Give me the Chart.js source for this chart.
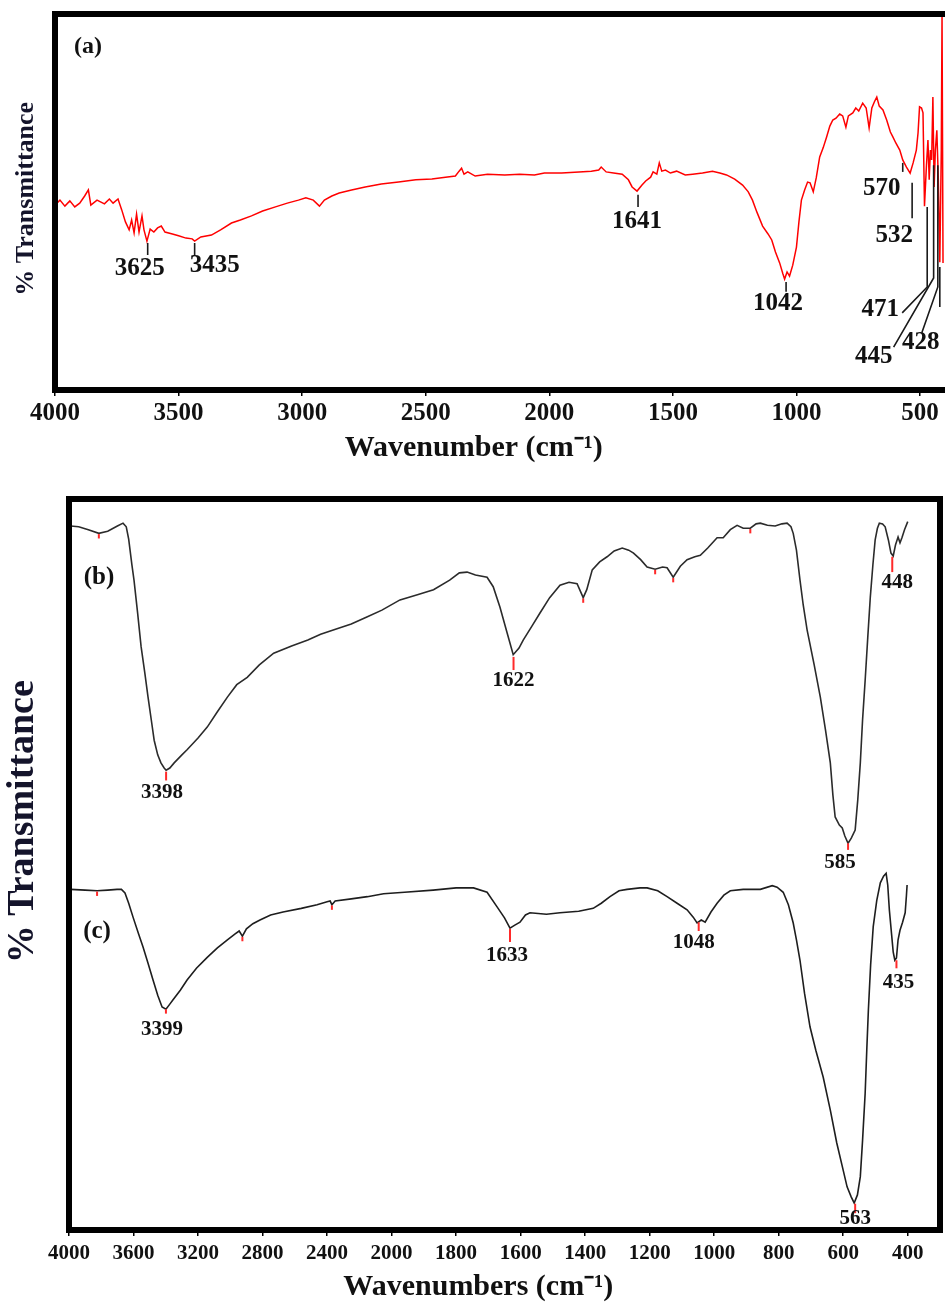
<!DOCTYPE html>
<html lang="en">
<head>
<meta charset="UTF-8">
<title>FTIR spectra (a), (b), (c)</title>
<script src="https://cdn.jsdelivr.net/npm/chart.js"></script>
<style>
  body { margin: 0; background: #fff; }
  canvas { position: absolute; left: 0; }
  #chartA { top: 0; }
  #chartBC { top: 470px; }
</style>
</head>
<body>
<canvas id="chartA" width="945" height="470"></canvas>
<canvas id="chartBC" width="945" height="836"></canvas>
<script>
// spectrum (a): wavenumber (cm-1) and transmittance (arb. units)
const wnA = [4000,3980,3960,3940,3920,3900,3880,3865,3855,3830,3800,3780,3765,3745,3730,3715,3700,3690,3680,3670,
  3660,3648,3640,3628,3615,3600,3585,3570,3555,3525,3500,3470,3445,3435,3410,3367,3330,3286,3250,3205,
  3160,3108,3060,3015,2985,2955,2930,2910,2880,2850,2800,2745,2680,2610,2540,2475,2420,2380,2365,2355,
  2345,2330,2300,2250,2180,2120,2060,2020,1950,1880,1830,1800,1790,1770,1740,1705,1680,1665,1645,1625,
  1610,1590,1580,1565,1555,1545,1530,1510,1485,1450,1420,1380,1340,1310,1283,1250,1218,1195,1178,1160,
  1137,1115,1100,1085,1068,1055,1048,1038,1028,1015,1000,990,980,967,955,945,932,920,906,892,
  878,865,853,840,825,813,800,790,772,760,748,732,718,706,695,685,675,665,650,635,
  620,610,598,582,570,555,540,528,515,508,502,494,488,482,474,468,463,458,453,448,
  443,438,432,426,420,414,411,407];
const tA = [49.2,50.5,48.9,50.3,48.7,49.7,51.6,53.2,49.2,50.5,49.5,50.8,49.7,50.8,47.9,44.7,42.6,45.2,41.8,46.8,
  42.0,46.3,42.6,39.6,42.8,42.0,43.1,43.6,42.0,41.5,41.0,40.4,40.2,39.6,40.7,41.2,42.6,44.4,45.2,46.3,
  47.6,48.7,49.7,50.5,51.1,50.5,48.9,50.5,51.6,52.4,53.2,54.0,54.8,55.3,55.9,56.1,56.6,56.9,58.2,59.0,
  57.4,58.0,56.9,57.4,57.2,57.4,57.2,57.7,57.7,58.0,58.2,58.5,59.3,58.0,57.7,57.4,55.9,54.0,52.9,54.5,
  55.6,56.6,58.0,57.4,60.4,58.2,58.5,57.7,58.2,57.2,57.4,57.7,58.2,57.7,57.2,56.1,54.5,52.7,50.5,47.3,
  43.6,41.5,39.9,36.7,33.8,30.9,29.5,31.4,30.3,33.2,38.0,44.7,50.5,53.2,55.3,55.1,52.7,56.4,62.0,64.4,
  67.3,70.2,71.8,72.3,73.4,72.9,69.9,72.9,73.7,75.0,74.2,76.3,75.0,69.7,75.0,76.6,77.9,75.5,74.5,71.8,
  68.6,67.3,65.7,63.8,61.2,59.3,57.7,60.4,63.8,68.4,75.3,75.0,73.7,48.9,59.8,66.5,55.9,63.8,61.2,77.9,
  54.0,63.8,69.1,55.9,34.0,63.8,99.7,33.8];

// spectrum (b)
const wnB = [3990,3940,3880,3815,3760,3700,3665,3645,3630,3610,3597,3575,3553,3530,3510,3490,3472,3450,3430,3410,
  3398,3375,3348,3300,3268,3200,3143,3080,3018,2960,2895,2820,2731,2620,2519,2440,2357,2250,2150,2060,
  1974,1920,1870,1820,1790,1766,1740,1704,1685,1664,1642,1623,1605,1592,1565,1540,1510,1478,1450,1425,
  1406,1395,1378,1355,1332,1310,1285,1265,1250,1228,1208,1183,1160,1146,1127,1105,1084,1060,1043,1020,
  991,972,950,929,910,888,870,857,835,811,790,774,762,755,745,734,724,712,690,671,
  655,640,632,625,612,603,595,585,575,563,555,547,540,532,524,516,508,501,494,488,
  478,470,460,452,445,438,430,424,418,410,400];
const tB = [96.3,96.2,95.8,95.3,95.6,96.3,96.7,96.2,94.5,91.0,88.9,84.5,79.8,76.2,72.9,69.8,67.0,65.0,63.9,63.2,
  62.9,63.2,63.9,65.0,65.7,67.3,68.8,70.9,72.9,74.6,75.6,77.3,78.9,79.9,80.7,81.5,82.1,82.9,83.9,84.8,
  86.2,86.9,87.6,88.9,89.9,90.0,89.6,89.3,88.0,85.2,81.7,78.7,79.6,80.7,82.6,84.4,86.5,88.2,88.6,88.4,
  86.5,87.6,90.3,91.4,92.1,92.9,93.3,93.0,92.6,91.7,90.7,90.4,90.7,90.6,89.3,90.8,91.7,92.1,92.3,93.3,
  94.7,94.7,95.8,96.4,96.0,96.0,96.6,96.7,96.4,96.3,96.6,96.7,96.2,95.3,93.0,88.9,85.5,82.1,77.3,72.9,
  68.4,63.9,59.5,56.5,55.4,55.0,53.9,52.9,53.6,54.7,58.8,63.9,69.8,75.2,81.0,86.6,91.0,94.4,96.0,96.7,
  96.6,96.2,94.4,92.6,92.2,93.7,94.8,94.0,94.7,95.8,96.9];

// spectrum (c)
const wnC = [3990,3900,3826,3760,3702,3675,3653,3630,3603,3570,3541,3510,3479,3450,3423,3399,3375,3355,3310,3268,
  3210,3143,3080,3018,2970,2945,2925,2900,2860,2816,2750,2673,2560,2462,2400,2381,2370,2350,2250,2150,
  2050,1960,1871,1800,1746,1704,1673,1650,1633,1618,1602,1585,1571,1520,1478,1420,1375,1350,1323,1295,
  1270,1230,1208,1175,1146,1115,1084,1065,1053,1040,1028,1010,991,970,950,910,857,820,805,786,
  770,755,745,734,720,703,685,662,640,620,604,588,575,566,556,547,540,532,527,522,
  515,507,496,485,475,467,462,457,450,445,440,435,430,424,416,408,404,402];
const tC = [46.6,46.5,46.4,46.5,46.6,46.6,46.1,44.7,42.8,40.6,38.7,36.5,34.2,32.1,30.5,30.2,30.9,31.5,32.8,34.2,
  35.8,37.3,38.6,39.7,40.5,40.9,40.2,41.2,41.9,42.4,43.1,43.5,44.0,44.5,44.9,45.0,44.5,45.0,45.3,45.6,
  46.0,46.2,46.5,46.8,46.8,46.2,44.2,42.7,41.3,41.7,42.1,43.1,43.4,43.2,43.4,43.6,44.0,44.7,45.6,46.4,
  46.6,46.8,46.8,46.4,45.6,44.7,43.8,42.8,42.0,42.4,42.1,43.5,44.7,45.8,46.4,46.6,46.6,47.1,46.9,46.2,
  44.5,42.0,39.7,36.9,32.4,27.8,24.6,20.9,16.4,11.9,8.9,5.9,4.5,3.7,4.8,7.3,12.3,18.7,24.6,30.1,
  36.3,41.5,45.1,47.5,48.4,48.8,47.2,43.8,40.4,38.0,36.9,37.2,39.7,41.0,42.1,43.4,45.8,47.2];

// tick labels
const ticksTop = [4000, 3500, 3000, 2500, 2000, 1500, 1000, 500];
const ticksBottom = [4000, 3600, 3200, 2800, 2400, 2000, 1800, 1600, 1400, 1200, 1000, 800, 600, 400];

// labelled peaks
const peaksA = [3625, 3435, 1641, 1042, 570, 532, 471, 445, 428];
const peaksB = [3398, 1622, 585, 448];
const peaksC = [3399, 1633, 1048, 563, 435];
// small unlabelled red marks on (b) and (c)
const minorB = [3815, 1406, 1183, 1127, 888];
const minorC = [3826, 2925, 2370];

// where the peak labels sit: tick from/to and label height in axis units, label shift in px
const placeA = [
  { tick: [39.1, 35.9], labelV: 32.4, dx: -8 },
  { tick: [39.1, 35.9], labelV: 33.0, dx: 20 },
  { tick: [51.9, 48.7], labelV: 44.7, dx: -1 },
  { tick: [28.7, 26.1], labelV: 22.9, dx: -8 },
  { tick: [60.4, 58.0], labelV: 53.7, dx: -21 },
  { tick: [55.1, 45.7], labelV: 41.2, dx: -18 },
  { tick: [48.7, 27.4], leader: [-25, 20.5], labelV: 21.3, dx: -47 },
  { tick: [59.8, 29.8], leader: [-40, 11.4], labelV: 8.8, dx: -60 },
  { tick: [59.8, 27.4], leader: [-16, 15.2], labelV: 12.5, dx: -17 }
];
const placeB = [
  { tick: [62.7, 61.5], labelV: 59.9, dx: -4 },
  { tick: [78.4, 76.6], labelV: 75.2, dx: 0 },
  { tick: [52.9, 52.0], labelV: 50.2, dx: -8 },
  { tick: [92.1, 90.0], labelV: 88.6, dx: 5 }
];
const placeC = [
  { tick: [30.2, 29.6], labelV: 27.4, dx: -4 },
  { tick: [41.2, 39.4], labelV: 37.6, dx: -3 },
  { tick: [42.1, 40.9], labelV: 39.3, dx: -5 },
  { tick: [3.6, 2.3], labelV: 1.6, dx: 0 },
  { tick: [36.9, 35.8], labelV: 33.9, dx: 2 }
];

const serif = '"Liberation Serif", "Times New Roman", Times, serif';

// lower panel: 4000-2000 drawn at half the scale of 2000-400
function toAxis(w) { return w >= 2000 ? (4000 - w) / 400 : 5 + (2000 - w) / 200; }
function fromAxis(p) { return p <= 5 ? 4000 - 400 * p : 2000 - 200 * (p - 5); }

// curve height at w, only used to hang the small marks on the line
function curveAt(ws, ts, w) {
  for (let i = 1; i < ws.length; i++) {
    if (ws[i] <= w) {
      const f = (ws[i - 1] - w) / (ws[i - 1] - ws[i]);
      return ts[i - 1] + f * (ts[i] - ts[i - 1]);
    }
  }
  return ts[ts.length - 1];
}

function buildMarks(peaks, place, color, width) {
  return peaks.map((w, i) => Object.assign({ w, text: String(w), color, width }, place[i]));
}
function buildMinor(list, ws, ts) {
  return list.map(w => {
    const v = curveAt(ws, ts, w);
    return { w, text: '', color: '#ff2a2a', width: 2, tick: [v - 0.1, v - 0.7] };
  });
}

// frame round the plot area (right side optional), peak ticks + labels, panel letters
function framePlugin(marks, letters, toX, font, letterFont, rightSide) {
  return {
    id: 'frameAndMarks',
    afterDatasetsDraw(chart) {
      const { ctx, chartArea: a, scales: { x, y } } = chart;
      ctx.save();
      ctx.strokeStyle = '#000';
      ctx.lineWidth = 6;
      ctx.lineJoin = 'miter';
      ctx.beginPath();
      if (rightSide) {
        ctx.rect(a.left, a.top, a.right - a.left, a.bottom - a.top);
      } else {
        ctx.moveTo(a.right + 3, a.top);
        ctx.lineTo(a.left, a.top);
        ctx.lineTo(a.left, a.bottom);
        ctx.lineTo(a.right + 3, a.bottom);
      }
      ctx.stroke();
      ctx.textAlign = 'center';
      ctx.textBaseline = 'middle';
      ctx.font = font;
      marks.forEach(m => {
        const px = x.getPixelForValue(toX(m.w));
        ctx.strokeStyle = m.color;
        ctx.lineWidth = m.width;
        ctx.beginPath();
        ctx.moveTo(px, y.getPixelForValue(m.tick[0]));
        ctx.lineTo(px, y.getPixelForValue(m.tick[1]));
        if (m.leader) ctx.lineTo(px + m.leader[0], y.getPixelForValue(m.leader[1]));
        ctx.stroke();
        if (m.text) {
          ctx.fillStyle = '#111';
          ctx.fillText(m.text, px + m.dx, y.getPixelForValue(m.labelV));
        }
      });
      ctx.font = letterFont;
      ctx.fillStyle = '#111';
      letters.forEach(([t, dx, dy]) => ctx.fillText(t, a.left + dx, a.top + dy));
      ctx.restore();
    }
  };
}

const marksA = buildMarks(peaksA, placeA, '#1a1a1a', 1.6);
marksA.push({ w: 420, text: '', color: '#1a1a1a', width: 1.6, tick: [32.7, 22.1] });

const marksBC = buildMarks(peaksB, placeB, '#ff2a2a', 2)
  .concat(buildMarks(peaksC, placeC, '#ff2a2a', 2))
  .concat(buildMinor(minorB, wnB, tB))
  .concat(buildMinor(minorC, wnC, tC));

const tickGrid = { display: true, drawOnChartArea: false, drawTicks: true, tickLength: 6, color: '#000', lineWidth: 1.5 };

// ---- panel (a); its right edge runs off the picture
new Chart(document.getElementById('chartA'), {
  type: 'line',
  data: {
    datasets: [{
      data: wnA.map((w, i) => ({ x: w, y: tA[i] })),
      borderColor: '#ff0000', borderWidth: 1.5, pointRadius: 0, tension: 0
    }]
  },
  options: {
    responsive: false,
    animation: false,
    layout: { padding: { top: 14, right: 0, left: 0, bottom: 0 } },
    plugins: { legend: { display: false }, tooltip: { enabled: false } },
    scales: {
      x: {
        type: 'linear', reverse: true, min: 399, max: 4000,
        afterBuildTicks: s => { s.ticks = ticksTop.map(v => ({ value: v })); },
        afterFit: s => { s.height = 80; },
        grid: tickGrid,
        border: { display: false },
        ticks: {
          padding: 3, maxRotation: 0, autoSkip: false, color: '#111',
          font: { family: serif, size: 25, weight: 'bold' },
          callback: v => String(v)
        },
        title: {
          display: true, text: 'Wavenumber (cm\u207B\u00B9)       ', color: '#111',
          font: { family: serif, size: 30, weight: 'bold' }, padding: { top: 0, bottom: 4 }
        }
      },
      y: {
        min: 0, max: 100,
        afterFit: s => { s.width = 55; },
        grid: { display: false },
        border: { display: false },
        ticks: { display: false },
        title: {
          display: true, text: ' % Transmittance', color: '#14142b',
          font: { family: serif, size: 26, weight: 'bold' }, padding: { top: 11, bottom: 0 }
        }
      }
    }
  },
  plugins: [framePlugin(marksA, [['(a)', 33, 33]], w => w,
    'bold 25px ' + serif, 'bold 24px ' + serif, false)]
});

// ---- panels (b) and (c)
new Chart(document.getElementById('chartBC'), {
  type: 'line',
  data: {
    datasets: [
      { data: wnB.map((w, i) => ({ x: toAxis(w), y: tB[i] })), borderColor: '#2b2b2b', borderWidth: 1.6, pointRadius: 0, tension: 0 },
      { data: wnC.map((w, i) => ({ x: toAxis(w), y: tC[i] })), borderColor: '#1e1e1e', borderWidth: 1.6, pointRadius: 0, tension: 0 }
    ]
  },
  options: {
    responsive: false,
    animation: false,
    layout: { padding: { top: 29, right: 5, left: 0, bottom: 0 } },
    plugins: { legend: { display: false }, tooltip: { enabled: false } },
    scales: {
      x: {
        type: 'linear', min: 0, max: 13.5,
        afterBuildTicks: s => { s.ticks = ticksBottom.map(w => ({ value: toAxis(w) })); },
        afterFit: s => { s.height = 76; },
        grid: tickGrid,
        border: { display: false },
        ticks: {
          padding: 5, maxRotation: 0, autoSkip: false, color: '#111',
          font: { family: serif, size: 21, weight: 'bold' },
          callback: v => String(Math.round(fromAxis(v)))
        },
        title: {
          display: true, text: 'Wavenumbers (cm\u207B\u00B9)       ', color: '#111',
          font: { family: serif, size: 30, weight: 'bold' }, padding: { top: 0, bottom: 1 }
        }
      },
      y: {
        min: 0, max: 100,
        afterFit: s => { s.width = 69; },
        grid: { display: false },
        border: { display: false },
        ticks: { display: false },
        title: {
          display: true, text: '         % Transmittance', color: '#14142b',
          font: { family: serif, size: 38, weight: 'bold' }, padding: { top: 0, bottom: 0 }
        }
      }
    }
  },
  plugins: [framePlugin(marksBC, [['(b)', 30, 79], ['(c)', 28, 433]], toAxis,
    'bold 21px ' + serif, 'bold 25px ' + serif, true)]
});
</script>
</body>
</html>
